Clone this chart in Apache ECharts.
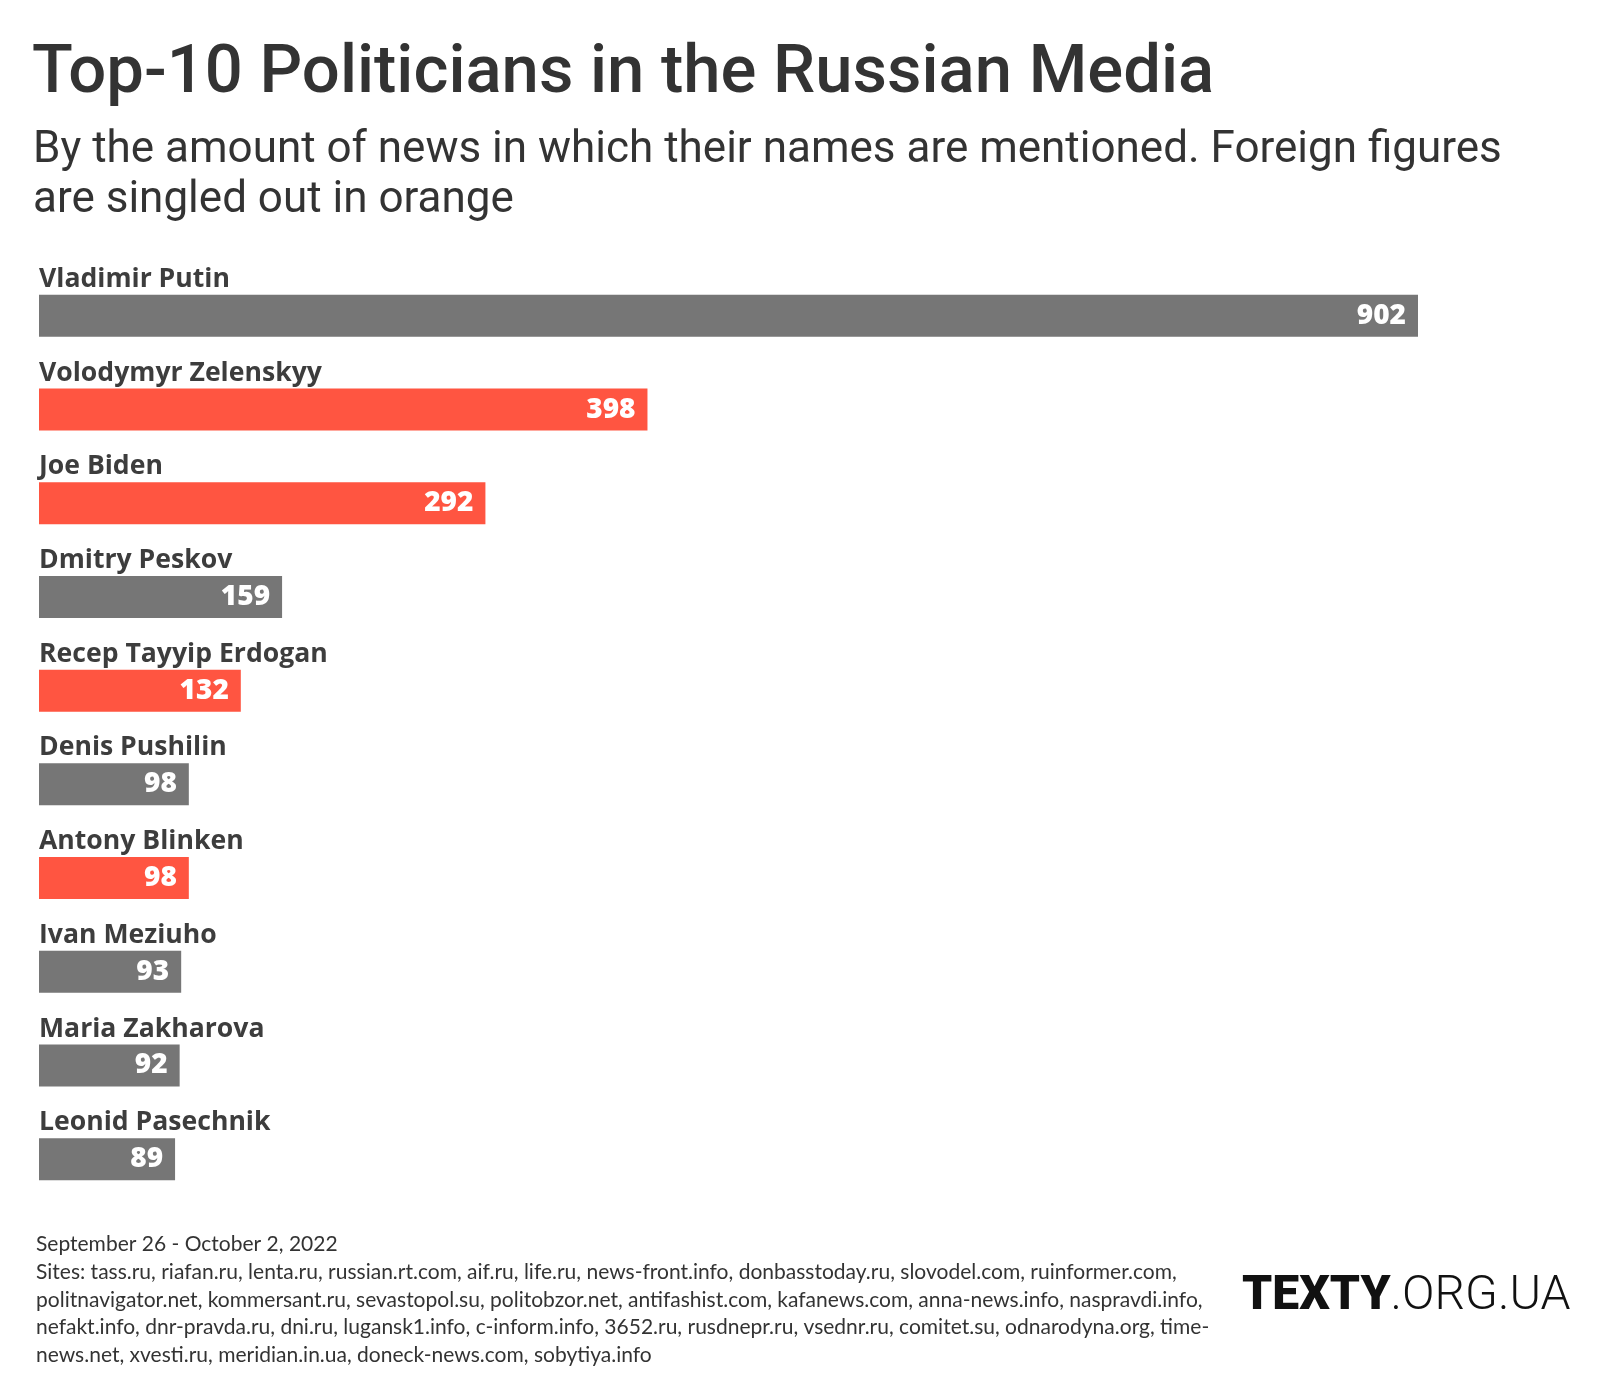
<!DOCTYPE html>
<html><head><meta charset="utf-8">
<script src="https://cdn.jsdelivr.net/npm/echarts@6/dist/echarts.min.js"></script>
<style>html,body{margin:0;padding:0;background:#fff}#c{width:1600px;height:1400px}</style>
</head><body><div id="c"></div>
<script>
const names = ["Vladimir Putin","Volodymyr Zelenskyy","Joe Biden","Dmitry Peskov","Recep Tayyip Erdogan","Denis Pushilin","Antony Blinken","Ivan Meziuho","Maria Zakharova","Leonid Pasechnik"];
const values = [902,398,292,159,132,98,98,93,92,89];
const foreign = [false,true,true,false,true,false,true,false,false,false];
const footerLines = [
 "September 26 - October 2, 2022",
 "Sites: tass.ru, riafan.ru, lenta.ru, russian.rt.com, aif.ru, life.ru, news-front.info, donbasstoday.ru, slovodel.com, ruinformer.com,",
 "politnavigator.net, kommersant.ru, sevastopol.su, politobzor.net, antifashist.com, kafanews.com, anna-news.info, naspravdi.info,",
 "nefakt.info, dnr-pravda.ru, dni.ru, lugansk1.info, c-inform.info, 3652.ru, rusdnepr.ru, vsednr.ru, comitet.su, odnarodyna.org, time-",
 "news.net, xvesti.ru, meridian.in.ua, doneck-news.com, sobytiya.info"
];
const GRAY = "#767676", ORANGE = "#ff5541";
const chart = echarts.init(document.getElementById('c'), null, {renderer:'canvas'});
chart.setOption({
  backgroundColor:'#fff',
  animation:false,
  title:[
    {text:"Top-10 Politicians in the Russian Media", left:27, top:37,
     textStyle:{fontFamily:"Roboto", fontWeight:500, fontSize:67, color:"#333"}},
    {text:"By the amount of news in which their names are mentioned. Foreign figures\nare singled out in orange", left:28, top:121,
     textStyle:{fontFamily:"Roboto", fontWeight:400, fontSize:44, lineHeight:50, color:"#333"}},
    {text:footerLines.join("\n"), left:31, top:1225,
     textStyle:{fontFamily:"Lato", fontWeight:400, fontSize:21, lineHeight:27.9, color:"#333"}},
    {text:"{b|TEXTY}{l|.ORG.UA}", left:1237, top:1268,
     textStyle:{rich:{b:{fontFamily:"Roboto",fontWeight:900,fontSize:48,color:"#111"},l:{fontFamily:"Roboto",fontWeight:300,fontSize:48,color:"#111"}}}}
  ],
  grid:{left:39, top:269, width:1379, height:937, containLabel:false},
  xAxis:{type:'value', min:0, max:'dataMax', show:false},
  yAxis:{type:'category', data:names, inverse:true,
    axisLine:{show:false}, axisTick:{show:false},
    axisLabel:{inside:true, margin:0, align:'left', verticalAlign:'bottom', padding:[0,0,23,0],
      fontFamily:"Open Sans", fontWeight:700, fontSize:26.6, color:"#3d3d3d"}},
  series:[{type:'bar', barWidth:42,
    data: values.map((v,i)=>({value:v, itemStyle:{color: foreign[i]?ORANGE:GRAY}})),
    label:{show:true, position:'insideRight', distance:12, color:'#fff',
      fontFamily:"Open Sans", fontWeight:800, fontSize:28}
  }]
});
</script></body></html>
